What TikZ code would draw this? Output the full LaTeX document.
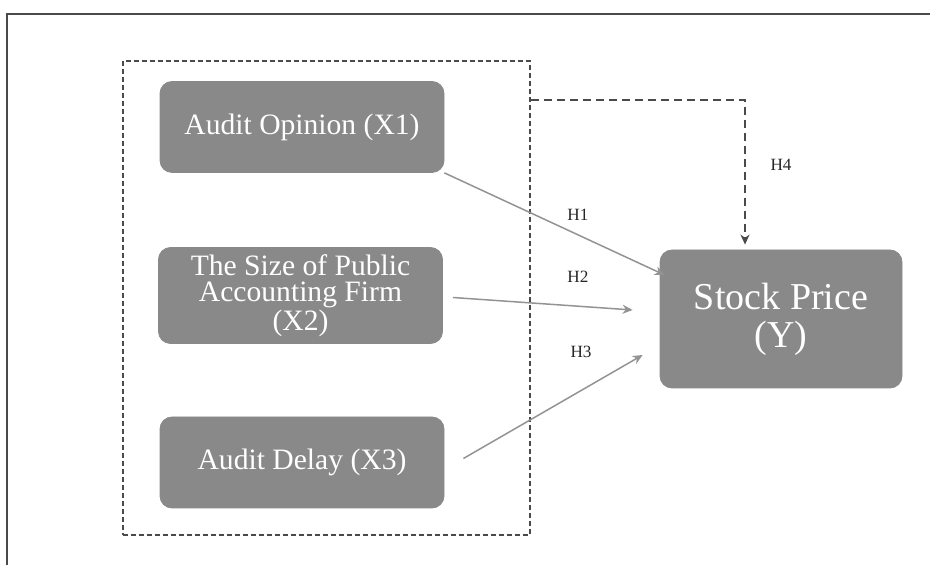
\documentclass[tikz,border=0pt]{standalone}
\usepackage{fontspec}
\setmainfont{Liberation Serif}
\usetikzlibrary{arrows.meta, positioning}
\definecolor{boxgray}{HTML}{898989}
\definecolor{linegray}{HTML}{939393}
\definecolor{dashgray}{HTML}{4A4A4A}
\tikzset{
	block/.style={fill=boxgray, draw=boxgray, rounded corners=6pt, text=white, align=center,
		font=\fontsize{14.8}{13.3}\selectfont, minimum width=142pt, minimum height=45.5pt},
	target/.style={block, font=\fontsize{19}{19}\selectfont, minimum width=121pt, minimum height=69pt},
	link/.style={draw=linegray, line width=0.75pt, -{Stealth[length=5pt, width=4.5pt]}},
	hyp/.style={font=\fontsize{8.6}{9}\selectfont, text=black!85}
}

\begin{document}
\begin{tikzpicture}[x=0.5pt, y=-0.5pt]
		\useasboundingbox (0,0) rectangle (930,565);
		% Frame
		\draw[dashgray, line width=1pt] (930,14) -- (7,14) -- (7,565);
		
		% Independent variables
		\node[draw=dashgray, line width=0.8pt, dash pattern=on 2.5pt off 1.5pt, minimum width=203.5pt, minimum height=237pt] (group) at (326.5,298) {};
		\node[block] (opinion) at (302,127) {Audit Opinion (X1)};
		\node[block] (size) at (300.5,295.5) {The Size of Public\\Accounting Firm\\(X2)};
		\node[block] (delay) at (302,462.5) {Audit Delay (X3)};
		
		% Dependent variable
		\node[target] (stock) at (781,319) {Stock Price\\(Y)};
		
		% Arrows
		\draw[link] (opinion.south east) -- ([shift={(5,-44)}]stock.west);
		\draw[link] ([shift={(10,2)}]size.east) -- ([shift={(-27,-9)}]stock.west);
		\draw[link] ([shift={(19,-4)}]delay.east) -- ([shift={(-17,36)}]stock.west);
		\coordinate (joint) at (group.east |- 0,100);
		\draw[dashgray, line width=0.8pt, dash pattern=on 4pt off 2.5pt, -{Stealth[length=5pt, width=4.5pt]}, shorten >=2.5pt]
			(joint) -| ([xshift=-18pt]stock.north);
		
		% Labels
		\node[hyp] (h1) at (578,215) {H1};
		\node[hyp] (h2) at (578,277) {H2};
		\node[hyp] (h3) at (581,352) {H3};
		\node[hyp] (h4) at (781,165) {H4};
	\end{tikzpicture}
\end{document}
